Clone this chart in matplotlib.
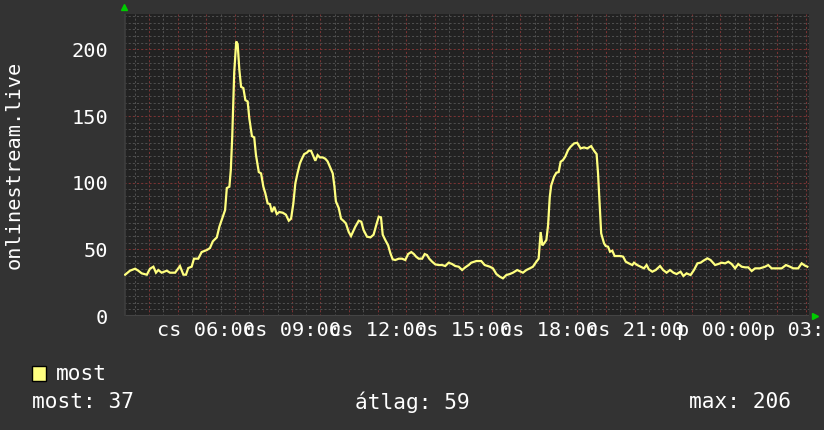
import numpy as np
import matplotlib
matplotlib.use("Agg")
import matplotlib.pyplot as plt
from matplotlib.patches import Rectangle

# ---- data (hours since 00:00 of day 1) ----
hours = [3.16, 3.33, 3.51, 3.62, 3.74, 3.92, 4.03, 4.15, 4.24, 4.32, 4.44, 4.62, 4.73, 4.91,
         5.08, 5.20, 5.29, 5.37, 5.49, 5.57, 5.72, 5.84, 6.02, 6.13, 6.23, 6.37, 6.46, 6.54,
         6.66, 6.72, 6.81, 6.86, 6.91, 6.98, 7.05, 7.10, 7.16, 7.22, 7.30, 7.37, 7.45, 7.51,
         7.60, 7.68, 7.74, 7.84, 7.92, 8.00, 8.07, 8.15, 8.23, 8.30, 8.38, 8.47, 8.56, 8.68,
         8.79, 8.89, 8.97, 9.05, 9.12, 9.20, 9.28, 9.35, 9.43, 9.52, 9.59, 9.67, 9.75, 9.82,
         9.90, 9.98, 10.08, 10.17, 10.25, 10.33, 10.43, 10.49, 10.54, 10.64, 10.72, 10.80,
         10.89, 10.99, 11.07, 11.22, 11.34, 11.43, 11.51, 11.63, 11.75, 11.86, 11.95, 12.04,
         12.12, 12.18, 12.27, 12.37, 12.45, 12.53, 12.62, 12.74, 12.86, 12.97, 13.07, 13.18,
         13.27, 13.35, 13.44, 13.56, 13.65, 13.73, 13.81, 13.91, 14.02, 14.14, 14.26, 14.37,
         14.49, 14.61, 14.72, 14.84, 14.96, 15.07, 15.19, 15.28, 15.46, 15.63, 15.75, 15.93,
         16.04, 16.16, 16.28, 16.39, 16.51, 16.63, 16.74, 16.89, 17.01, 17.09, 17.21, 17.33,
         17.44, 17.56, 17.64, 17.71, 17.77, 17.83, 17.91, 17.97, 18.03, 18.08, 18.18, 18.26,
         18.34, 18.41, 18.49, 18.57, 18.67, 18.76, 18.88, 18.99, 19.11, 19.23, 19.34, 19.48,
         19.58, 19.67, 19.72, 19.78, 19.83, 19.93, 19.99, 20.07, 20.14, 20.22, 20.30, 20.39,
         20.51, 20.60, 20.69, 20.80, 20.92, 20.98, 21.09, 21.21, 21.33, 21.42, 21.50, 21.62,
         21.74, 21.89, 22.00, 22.12, 22.24, 22.36, 22.47, 22.61, 22.71, 22.82, 22.96, 23.08,
         23.20, 23.31, 23.41, 23.55, 23.66, 23.82, 23.93, 24.05, 24.17, 24.28, 24.40, 24.52,
         24.63, 24.75, 24.87, 24.98, 25.10, 25.22, 25.39, 25.57, 25.68, 25.80, 25.98, 26.15,
         26.30, 26.44, 26.56, 26.73, 26.85, 26.97, 27.05]
values = [31, 34, 35.5, 34, 32, 31, 35.5, 37, 32.5, 34.5, 32.5, 34, 32.5, 32.5,
          37.5, 31, 31, 36, 37, 43, 43, 48, 49.5, 51, 56, 59, 67, 72,
          79.5, 96, 97, 109.5, 134.5, 183, 206, 204, 184.5, 172, 171, 162, 161, 148,
          135, 134, 121, 108, 107, 97, 92, 84.5, 84, 78, 82, 76.5, 78, 77.5,
          76, 71.5, 73, 84.5, 99.5, 107.5, 114.5, 118, 121.5, 122.5, 124, 124, 120, 116.5,
          120.75, 119, 119, 118, 116, 112, 107, 97, 86, 81, 73, 71.5,
          69.5, 63, 60, 67, 71.5, 70.75, 64.5, 59.5, 59, 61, 68, 74.5,
          74, 61, 57, 53, 47, 42.5, 42, 43, 43, 42, 46.5, 48,
          46.5, 44.5, 43, 43, 46.5, 45.75, 43, 40.75, 38.75, 38.25, 38.25, 37.5,
          40, 39, 37.5, 37, 34.5, 36.5, 38.25, 40, 41.25, 41.25, 38.25, 37,
          35.75, 31.5, 29.5, 28.25, 30.75, 31.5, 32.5, 34.5, 33.25, 32.5, 34.5, 35.75,
          37, 40.75, 43, 63, 53, 54.5, 57, 68, 89.5, 98, 104.5, 107.5,
          108, 115.75, 117, 119.5, 124.5, 127, 129.5, 130, 125.75, 126.5, 125.75, 127.5,
          124, 121.5, 107, 82, 62, 54.5, 52.5, 52, 48.25, 49, 45, 45,
          45, 44.5, 40.75, 39.5, 38.25, 40, 38.25, 37, 35.75, 38.25, 35, 33.25,
          34.5, 37.5, 34.5, 32.5, 34.5, 32.5, 31.5, 33.25, 30, 32, 30.75, 34.5,
          39.5, 40, 41.5, 43.25, 42, 38.25, 39, 40, 39.5, 40.75, 39, 35.75,
          39, 37, 36.5, 36.5, 33.75, 35.75, 35.75, 37, 38.25, 35.75, 35.75, 35.75,
          38.25, 37, 35.75, 35.75, 39.5, 37.75, 37]

x_tick_hours = [6, 9, 12, 15, 18, 21, 24, 27]
x_tick_labels = ["cs 06:00", "cs 09:00", "cs 12:00", "cs 15:00", "cs 18:00",
                 "cs 21:00", "p 00:00", "p 03:00"]
y_ticks = [0, 50, 100, 150, 200]
series_name = "most"
y_label = "onlinestream.live"
stat_current = 37
stat_avg = 59
stat_max = 206

# ---- style ----
BG = "#333333"
PLOT_BG = "#222222"
LINE = "#ffff80"
MAJOR = "#7a3434"
MINOR = "#4e4e4e"
TXT = "#ffffff"
FONT = "DejaVu Sans Mono"
AX_FS = 14.6
LEG_FS = 15.2

W, H = 824, 430
fig = plt.figure(figsize=(W / 100, H / 100), dpi=100, facecolor=BG)
left, right, top, bottom = 124, 808.5, 13.5, 316
ax = fig.add_axes([left / W, 1 - bottom / H, (right - left) / W, (bottom - top) / H])
ax.set_facecolor(PLOT_BG)

ax.set_xlim(3.12, 27.09)
ax.set_ylim(0, 227)

# grid
ax.set_xticks(x_tick_hours)
ax.set_xticklabels(x_tick_labels)
ax.set_yticks(y_ticks)

dots = (0, (2, 2))
for h in np.arange(3.5, 27.1, 0.5):
    is_hour = abs(h - round(h)) < 1e-6
    ax.axvline(h, color=MAJOR if is_hour else MINOR, lw=0.75, ls=dots, zorder=1)
for v in np.arange(5, 227, 5):
    ax.axhline(v, color=MAJOR if v % 50 == 0 else MINOR, lw=0.75, ls=dots, zorder=1)

ax.plot(hours, values, color=LINE, lw=1.6, zorder=3, solid_joinstyle="miter")

for s in ax.spines.values():
    s.set_visible(False)
ax.axhline(0, color="#444444", lw=1.5, zorder=2)
ax.axvline(3.12, color="#3c3c3c", lw=2.0, zorder=2)

ax.tick_params(axis="both", which="both", length=0)
ax.tick_params(axis="y", pad=11.5, labelsize=AX_FS, labelcolor=TXT)
ax.tick_params(axis="x", pad=3.5, labelsize=AX_FS, labelcolor=TXT)
for lbl in ax.get_xticklabels() + ax.get_yticklabels():
    lbl.set_fontfamily(FONT)

ax.text((14 - left) / (right - left), 0.5, y_label, transform=ax.transAxes, rotation=90,
        color=TXT, fontsize=AX_FS, fontfamily=FONT, ha="center", va="center")

# arrows
ax.plot([0], [1.02], marker="^", color="#00cc00", ms=5, transform=ax.transAxes,
        clip_on=False, zorder=5)
ax.plot([1.009], [0], marker=">", color="#00cc00", ms=5, transform=ax.transAxes,
        clip_on=False, zorder=5)

# legend
fig.patches.append(Rectangle((32 / W, 1 - 381 / H), 14 / W, 15 / H, transform=fig.transFigure,
                             facecolor=LINE, edgecolor="black", lw=1))
fig.text(56 / W, 1 - 374 / H, series_name, color=TXT, fontsize=LEG_FS, fontfamily=FONT,
         ha="left", va="center")
fig.text(32 / W, 1 - 402 / H, f"most: {stat_current}", color=TXT, fontsize=LEG_FS,
         fontfamily=FONT, ha="left", va="center")
fig.text(355 / W, 1 - 402 / H, f"átlag: {stat_avg}", color=TXT, fontsize=LEG_FS,
         fontfamily=FONT, ha="left", va="center")
fig.text(791 / W, 1 - 402 / H, f"max: {stat_max}", color=TXT, fontsize=LEG_FS,
         fontfamily=FONT, ha="right", va="center")

fig.savefig("out.png", dpi=100, facecolor=BG)
